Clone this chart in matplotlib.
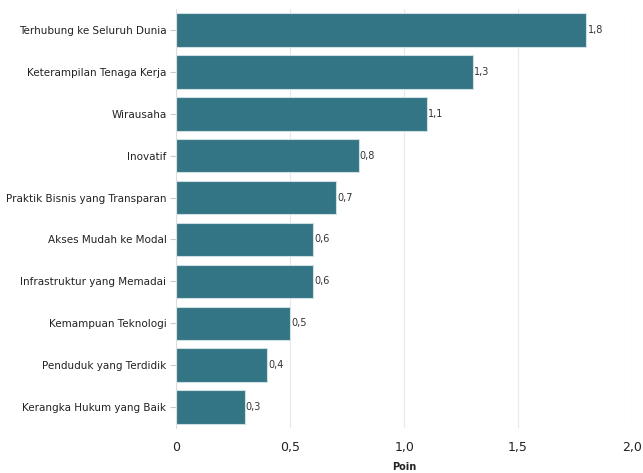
import matplotlib.pyplot as plt

# Data
categories = ["Terhubung ke Seluruh Dunia", "Keterampilan Tenaga Kerja", "Wirausaha",
              "Inovatif", "Praktik Bisnis yang Transparan", "Akses Mudah ke Modal",
              "Infrastruktur yang Memadai", "Kemampuan Teknologi",
              "Penduduk yang Terdidik", "Kerangka Hukum yang Baik"]
values = [1.8, 1.3, 1.1, 0.8, 0.7, 0.6, 0.6, 0.5, 0.4, 0.3]
xticks = [0, 0.5, 1.0, 1.5, 2.0]
xticklabels = ["0", "0,5", "1,0", "1,5", "2,0"]

fig = plt.figure(figsize=(6.43, 4.73), dpi=100)
ax = fig.add_axes([0.274, 0.095, 0.709, 0.886])

ypos = list(range(len(categories)))
ax.barh(ypos, values, height=0.8, color="#347585", edgecolor="#cfe0e4", linewidth=0.8, zorder=2)

for y, v in zip(ypos, values):
    ax.text(v + 0.005, y, ("%.1f" % v).replace(".", ","), va="center", ha="left",
            fontsize=7, color="#333333")

ax.set_yticks(ypos)
ax.set_yticklabels(categories, fontsize=7.5, color="#222222")
ax.set_ylim(9.5, -0.5)
ax.set_xlim(0, 2.0)
ax.set_xticks(xticks)
ax.set_xticklabels(xticklabels, fontsize=9, color="#222222")
ax.set_xlabel("Poin", fontsize=7, fontweight="bold", color="#222222", labelpad=6)

ax.grid(axis="x", color="#e8e8e8", linewidth=0.8, zorder=0)
for s in ["top", "right", "bottom"]:
    ax.spines[s].set_visible(False)
ax.spines["left"].set_color("#dddddd")
ax.tick_params(axis="y", length=4, color="#cccccc", pad=3)
ax.tick_params(axis="x", length=0, pad=9)

plt.savefig("out.png", dpi=100)
